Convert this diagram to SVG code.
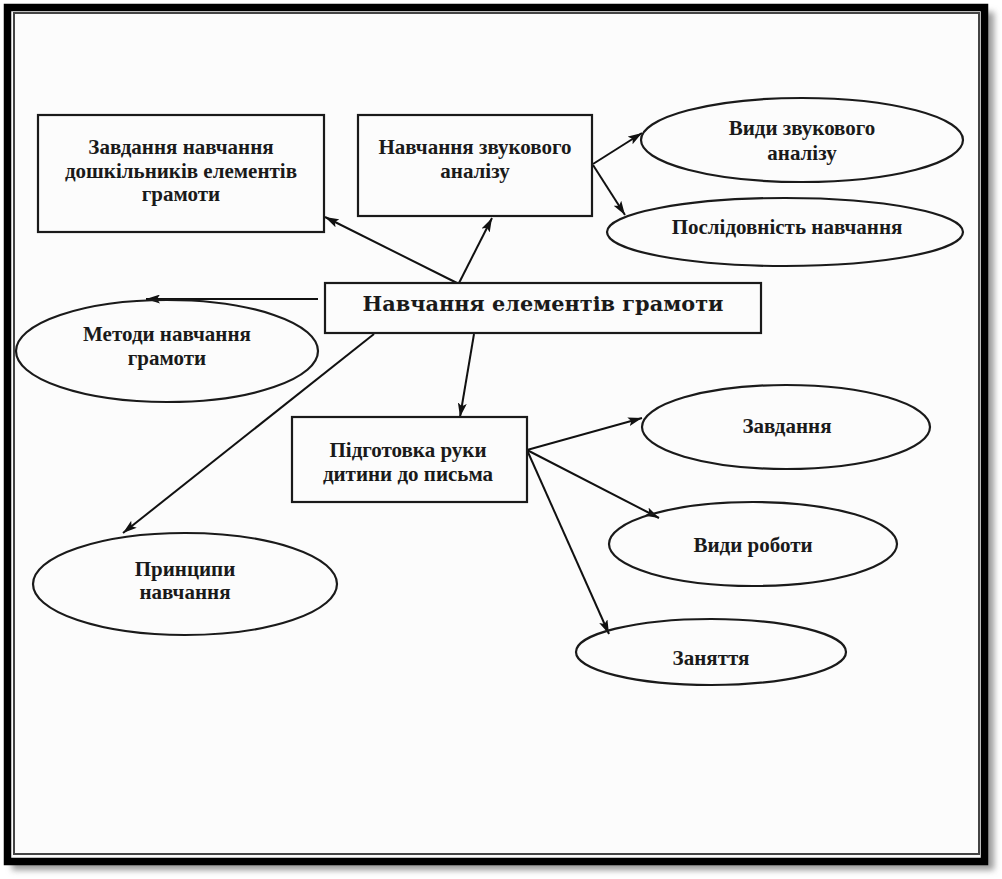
<svg xmlns="http://www.w3.org/2000/svg" width="1002" height="879" viewBox="0 0 1002 879">
<defs>
<filter id="shadow" x="-5%" y="-5%" width="110%" height="110%"><feGaussianBlur stdDeviation="3"/></filter>
<marker id="arr" viewBox="0 0 14 9" refX="14" refY="4.5" markerWidth="14" markerHeight="9" markerUnits="userSpaceOnUse" orient="auto"><path d="M0,0 L14,4.5 L0,9 L3,4.5 Z" fill="#111"/></marker>
</defs>
<style>
.box{fill:none;stroke:#1a1a1a;stroke-width:2.2}
.t{font-family:"Liberation Serif","Times New Roman",serif;font-weight:bold;font-size:21px;fill:#1a1a1a;text-anchor:middle}
.tc{font-family:"DejaVu Serif",serif;font-weight:bold;font-size:21px;fill:#1a1a1a;text-anchor:middle}
.c{stroke:#111;stroke-width:2;fill:none;marker-end:url(#arr)}
</style>
<rect width="1002" height="879" fill="#ffffff"/>
<rect x="12" y="12" width="982" height="858" fill="#9a9a9a" filter="url(#shadow)"/>
<rect x="7.5" y="7.5" width="977" height="854" fill="#fcfcfc" stroke="#000" stroke-width="7.5"/>
<rect x="14" y="13" width="965" height="841" fill="none" stroke="#444" stroke-width="2"/>

<g id="connectors">
<line class="c" x1="457" y1="283" x2="325" y2="217"/>
<line class="c" x1="459" y1="283" x2="492" y2="218"/>
<line class="c" x1="593" y1="164" x2="642" y2="133"/>
<line class="c" x1="593" y1="165" x2="625" y2="215"/>
<line class="c" x1="318" y1="299" x2="146" y2="299"/>
<line class="c" x1="374" y1="334" x2="123" y2="533"/>
<line class="c" x1="474" y1="334" x2="460" y2="417"/>
<line class="c" x1="527" y1="450" x2="642" y2="418"/>
<line class="c" x1="527" y1="450" x2="659" y2="518"/>
<line class="c" x1="527" y1="450" x2="609" y2="634"/>
</g>

<g id="n-zavdannia-navchannia">
<rect class="box" x="38" y="115" width="286" height="117"/>
<text class="t" x="181" y="154">Завдання навчання</text>
<text class="t" x="181" y="178">дошкільників елементів</text>
<text class="t" x="181" y="201">грамоти</text>
</g>

<g id="n-zvukovyi-analiz">
<rect class="box" x="358" y="115" width="234" height="101"/>
<text class="t" x="475" y="154">Навчання звукового</text>
<text class="t" x="475" y="178">аналізу</text>
</g>

<g id="n-vydy-zvukovoho">
<ellipse class="box" cx="802" cy="140" rx="161" ry="42"/>
<text class="t" x="802" y="135">Види звукового</text>
<text class="t" x="802" y="160">аналізу</text>
</g>

<g id="n-poslidovnist">
<ellipse class="box" cx="785" cy="232" rx="178" ry="34"/>
<text class="t" x="787" y="234">Послідовність навчання</text>
</g>

<g id="n-central">
<rect class="box" x="325" y="283" width="436" height="50"/>
<text class="tc" x="543" y="311" textLength="361" lengthAdjust="spacingAndGlyphs">Навчання елементів грамоти</text>
</g>

<g id="n-metody">
<ellipse class="box" cx="167" cy="351" rx="151" ry="51"/>
<text class="t" x="167" y="341">Методи навчання</text>
<text class="t" x="167" y="365">грамоти</text>
</g>

<g id="n-pidhotovka">
<rect class="box" x="292" y="417" width="235" height="85"/>
<text class="t" x="408" y="457">Підготовка руки</text>
<text class="t" x="408" y="481">дитини до письма</text>
</g>

<g id="n-pryntsypy">
<ellipse class="box" cx="185" cy="584" rx="152" ry="51"/>
<text class="t" x="185" y="576">Принципи</text>
<text class="t" x="185" y="599">навчання</text>
</g>

<g id="n-zavdannia">
<ellipse class="box" cx="786" cy="427" rx="144" ry="42"/>
<text class="t" x="787" y="433">Завдання</text>
</g>

<g id="n-vydy-roboty">
<ellipse class="box" cx="753" cy="544" rx="144" ry="42"/>
<text class="t" x="753" y="552">Види роботи</text>
</g>

<g id="n-zaniattia">
<ellipse class="box" cx="711" cy="652" rx="135" ry="33"/>
<text class="t" x="711" y="665">Заняття</text>
</g>
</svg>
